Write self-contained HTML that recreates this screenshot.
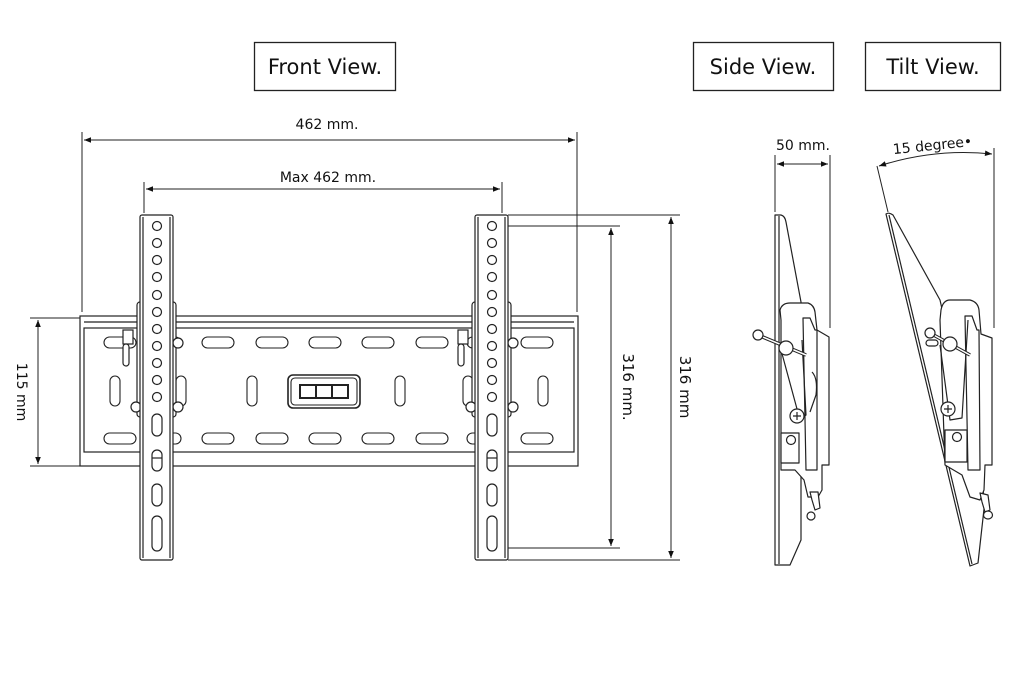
<!DOCTYPE html>
<html><head><meta charset="utf-8"><style>
html,body{margin:0;padding:0;background:#fff;}
svg{display:block;}
text{font-family:"DejaVu Sans","Liberation Sans",sans-serif;fill:#111;}
</style></head><body>
<svg width="1024" height="683" viewBox="0 0 1024 683" xmlns="http://www.w3.org/2000/svg">
<defs>
<marker id="ar" viewBox="0 0 10 10" refX="10" refY="5" markerWidth="9" markerHeight="7" orient="auto-start-reverse" markerUnits="userSpaceOnUse"><path d="M0,1 L10,5 L0,9 z" fill="#111"/></marker>
</defs>
<g fill="none" stroke="#222" stroke-width="1.3">
<!-- title boxes -->
<rect x="254.5" y="42.5" width="141" height="48"/>
<rect x="693.5" y="42.5" width="140" height="48"/>
<rect x="865.5" y="42.5" width="135" height="48"/>
</g>
<text x="325" y="74" font-size="21" text-anchor="middle">Front View.</text>
<text x="763" y="74" font-size="21" text-anchor="middle">Side View.</text>
<text x="933" y="74" font-size="21" text-anchor="middle">Tilt View.</text>

<!-- dimension lines -->
<g stroke="#222" stroke-width="1" fill="none">
<line x1="82" y1="132" x2="82" y2="312"/><line x1="577" y1="132" x2="577" y2="312"/>
<line x1="84" y1="140" x2="575" y2="140" marker-start="url(#ar)" marker-end="url(#ar)"/>
<line x1="144" y1="182" x2="144" y2="213"/><line x1="502" y1="182" x2="502" y2="213"/>
<line x1="146" y1="189" x2="500" y2="189" marker-start="url(#ar)" marker-end="url(#ar)"/>
<line x1="30" y1="318" x2="80" y2="318"/><line x1="30" y1="466" x2="80" y2="466"/>
<line x1="38" y1="320" x2="38" y2="464" marker-start="url(#ar)" marker-end="url(#ar)"/>
<line x1="508" y1="226" x2="620" y2="226"/><line x1="508" y1="548" x2="620" y2="548"/>
<line x1="611" y1="228" x2="611" y2="546" marker-start="url(#ar)" marker-end="url(#ar)"/>
<line x1="508" y1="215" x2="680" y2="215"/><line x1="508" y1="560" x2="680" y2="560"/>
<line x1="671" y1="217" x2="671" y2="558" marker-start="url(#ar)" marker-end="url(#ar)"/>
<line x1="775" y1="155" x2="775" y2="212"/><line x1="830" y1="155" x2="830" y2="328"/>
<line x1="777" y1="164" x2="828" y2="164" marker-start="url(#ar)" marker-end="url(#ar)"/>
<line x1="877" y1="166" x2="888" y2="212"/><line x1="994" y1="148" x2="994" y2="328"/>
<path d="M879,166 Q935,148 992,154" marker-start="url(#ar)" marker-end="url(#ar)"/>
</g>
<text x="327" y="129" font-size="14" text-anchor="middle">462 mm.</text>
<text x="328" y="182" font-size="14" text-anchor="middle">Max 462 mm.</text>
<text x="803" y="150" font-size="14" text-anchor="middle">50 mm.</text>
<text x="933" y="150" font-size="14" text-anchor="middle" transform="rotate(-6 933 150)">15 degree•</text>
<text transform="translate(17 392) rotate(90)" font-size="14" text-anchor="middle">115 mm</text>
<text transform="translate(623 387) rotate(90)" font-size="15" text-anchor="middle">316 mm.</text>
<text transform="translate(680 387) rotate(90)" font-size="15" text-anchor="middle">316 mm</text>

<!-- front plate -->
<g fill="#fff" stroke="#222" stroke-width="1.2">
<rect x="80" y="316" width="498" height="150"/>
<rect x="84" y="328" width="490" height="124"/>
<line x1="84" y1="322" x2="574" y2="322" />
</g>
<g fill="none" stroke="#222" stroke-width="1.1">
<rect x="104" y="337" width="32" height="11" rx="5.5"/><rect x="149" y="337" width="32" height="11" rx="5.5"/>
<rect x="202" y="337" width="32" height="11" rx="5.5"/><rect x="256" y="337" width="32" height="11" rx="5.5"/>
<rect x="309" y="337" width="32" height="11" rx="5.5"/><rect x="362" y="337" width="32" height="11" rx="5.5"/>
<rect x="416" y="337" width="32" height="11" rx="5.5"/><rect x="467" y="337" width="32" height="11" rx="5.5"/>
<rect x="521" y="337" width="32" height="11" rx="5.5"/>
<rect x="104" y="433" width="32" height="11" rx="5.5"/><rect x="149" y="433" width="32" height="11" rx="5.5"/>
<rect x="202" y="433" width="32" height="11" rx="5.5"/><rect x="256" y="433" width="32" height="11" rx="5.5"/>
<rect x="309" y="433" width="32" height="11" rx="5.5"/><rect x="362" y="433" width="32" height="11" rx="5.5"/>
<rect x="416" y="433" width="32" height="11" rx="5.5"/><rect x="467" y="433" width="32" height="11" rx="5.5"/>
<rect x="521" y="433" width="32" height="11" rx="5.5"/>
<rect x="110" y="376" width="10" height="30" rx="5"/><rect x="176" y="376" width="10" height="30" rx="5"/>
<rect x="247" y="376" width="10" height="30" rx="5"/><rect x="395" y="376" width="10" height="30" rx="5"/>
<rect x="463" y="376" width="10" height="30" rx="5"/><rect x="538" y="376" width="10" height="30" rx="5"/>
<rect x="288" y="375" width="72" height="33" rx="5" stroke-width="1.6"/>
<rect x="291" y="378" width="66" height="27" rx="4"/>
<rect x="300" y="385" width="48" height="13" stroke-width="2"/>
<line x1="316" y1="385" x2="316" y2="398" stroke-width="2"/><line x1="332" y1="385" x2="332" y2="398" stroke-width="2"/>
</g>
<!-- uprights -->
<g id="up" stroke="#222" stroke-width="1.2">
<rect x="137" y="302" width="39" height="115" rx="3" fill="#fff"/>
<rect x="123" y="330" width="10" height="14" fill="#fff"/><rect x="123" y="344" width="6" height="22" rx="3" fill="#fff"/>
<circle cx="136" cy="407" r="5" fill="#fff"/><circle cx="178" cy="407" r="5" fill="#fff"/>
<circle cx="178" cy="343" r="5" fill="#fff"/>
<rect x="140" y="215" width="33" height="345" rx="2" fill="#fff"/>
<line x1="143" y1="217" x2="143" y2="558" fill="none"/><line x1="170" y1="217" x2="170" y2="558" fill="none"/>
<g fill="none">
<circle cx="157" cy="226" r="4.5"/><circle cx="157" cy="243" r="4.5"/><circle cx="157" cy="260" r="4.5"/>
<circle cx="157" cy="277" r="4.5"/><circle cx="157" cy="295" r="4.5"/><circle cx="157" cy="312" r="4.5"/>
<circle cx="157" cy="329" r="4.5"/><circle cx="157" cy="346" r="4.5"/><circle cx="157" cy="363" r="4.5"/>
<circle cx="157" cy="380" r="4.5"/><circle cx="157" cy="397" r="4.5"/>
<rect x="152" y="414" width="10" height="22" rx="5"/><rect x="152" y="450" width="10" height="21" rx="5"/>
<line x1="152" y1="458" x2="162" y2="458"/>
<rect x="152" y="484" width="10" height="22" rx="5"/><rect x="152" y="516" width="10" height="35" rx="5"/>
</g>
</g>
<use href="#up" transform="translate(335 0)"/>

<!-- side view -->
<g fill="#fff" stroke="#222" stroke-width="1.2" stroke-linejoin="round">
<path d="M775,215 L781,215 Q785,216 786,222 L801,302 L801,540 L790,565 L775,565 Z"/>
<line x1="779" y1="216" x2="779" y2="564"/>
<path d="M780,310 Q782,303 790,303 L808,303 Q814,305 815,312 L817,330 L829,337 L829,465 L822,465 L822,490 L818,497 L808,497 L804,480 L795,470 L781,470 L781,320 Z"/>
<path d="M803,318 L810,318 L815,330 L817,330 L817,470 L806,470 Z"/>
<path d="M781,350 L800,420 L806,415 L802,340" fill="none"/>
<path d="M812,372 Q818,378 816,395 L810,412" fill="none"/>
<line x1="758" y1="335" x2="806" y2="355" stroke-width="3.5"/>
<line x1="758" y1="335" x2="806" y2="355" stroke="#fff" stroke-width="1.5"/>
<circle cx="758" cy="335" r="5"/><circle cx="786" cy="348" r="7"/>
<circle cx="797" cy="416" r="7"/><path d="M793,416 h8 M797,412 v8" fill="none"/>
<rect x="781" y="433" width="18" height="30"/><circle cx="791" cy="440" r="4.5"/>
<path d="M810,492 L818,492 L820,508 L815,510 L812,500 Z"/>
<ellipse cx="811" cy="516" rx="4" ry="4"/>
</g>

<!-- tilt view -->
<g fill="#fff" stroke="#222" stroke-width="1.2" stroke-linejoin="round">
<path d="M886,214 Q889,212 893,215 L940,300 L985,500 L978,563 L970,566 Z"/>
<line x1="889" y1="215" x2="972" y2="564"/>
<path d="M941,310 Q943,300 950,300 L970,300 Q978,302 979,310 L981,334 L992,338 L992,465 L985,465 L984,490 L980,500 L970,497 L962,475 L945,465 L940,320 Z"/>
<path d="M965,316 L972,316 L977,330 L979,330 L980,470 L968,470 Z"/>
<path d="M940,345 L950,420 L962,418 L968,320" fill="none"/>
<line x1="930" y1="333" x2="970" y2="355" stroke-width="3.5"/>
<line x1="930" y1="333" x2="970" y2="355" stroke="#fff" stroke-width="1.5"/>
<circle cx="930" cy="333" r="5"/><circle cx="950" cy="344" r="7"/>
<rect x="926" y="340" width="12" height="6" rx="3"/>
<circle cx="948" cy="409" r="7"/><path d="M944,409 h8 M948,405 v8" fill="none"/>
<rect x="945" y="430" width="22" height="32"/><circle cx="957" cy="437" r="4.5"/>
<path d="M980,493 L988,495 L990,510 L985,512 L982,502 Z"/>
<ellipse cx="988" cy="515" rx="4.5" ry="4"/>
</g>
</svg>
</body></html>
